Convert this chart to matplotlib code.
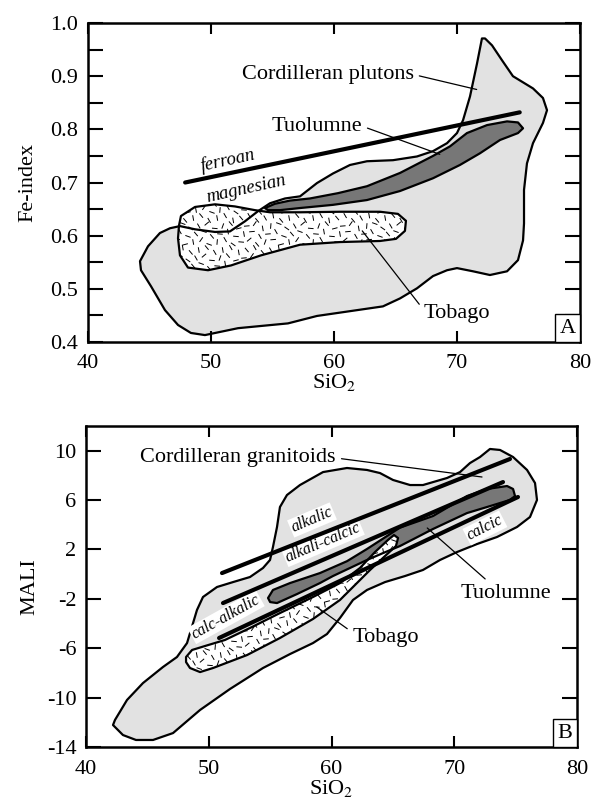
import numpy as np
import matplotlib.pyplot as plt
from matplotlib.patches import Polygon
from matplotlib.collections import LineCollection
from matplotlib.offsetbox import AnchoredText

# --- panel A: Fe-index vs SiO2 ---
plutons_si = [44.23, 44.88, 45.85, 46.67, 47.48, 48.70, 50.33, 51.54, 52.76, 53.82,
              54.80, 56.02, 57.24, 58.62, 59.92, 61.30, 62.68, 64.80, 66.75, 68.05,
              69.19, 70.00, 70.49, 71.06, 71.63, 72.03, 72.28, 72.85, 73.66, 74.55,
              76.18, 76.99, 77.32, 76.99, 76.18, 75.69, 75.45, 75.45, 75.37, 74.96,
              74.07, 72.68, 71.30, 70.00, 69.19, 68.05, 66.75, 65.37, 63.98, 61.30,
              58.62, 56.26, 52.20, 49.51, 48.37, 47.32, 46.26, 45.12, 44.31]
plutons_fe = [0.552, 0.580, 0.605, 0.614, 0.618, 0.612, 0.607, 0.608, 0.627, 0.646,
              0.661, 0.670, 0.674, 0.699, 0.717, 0.733, 0.740, 0.742, 0.749, 0.759,
              0.774, 0.793, 0.817, 0.862, 0.924, 0.971, 0.971, 0.958, 0.930, 0.900,
              0.877, 0.859, 0.836, 0.812, 0.774, 0.736, 0.686, 0.623, 0.591, 0.554,
              0.533, 0.526, 0.533, 0.539, 0.535, 0.524, 0.501, 0.482, 0.467, 0.458,
              0.449, 0.435, 0.426, 0.413, 0.417, 0.432, 0.460, 0.505, 0.535]

tuolumne_a_si = [54.39, 55.20, 56.42, 58.05, 60.33, 62.68, 65.37, 68.05, 69.43, 70.81,
                 72.44, 74.07, 74.96, 75.37, 74.96, 73.50, 71.87, 70.24, 68.05, 65.37,
                 62.68, 59.92, 57.24, 55.61, 54.63]
tuolumne_a_fe = [0.652, 0.660, 0.666, 0.670, 0.680, 0.693, 0.718, 0.750, 0.768, 0.793,
                 0.808, 0.815, 0.813, 0.802, 0.793, 0.780, 0.755, 0.733, 0.708, 0.684,
                 0.667, 0.658, 0.652, 0.648, 0.648]

tobago_a_si = [47.56, 48.70, 50.33, 51.95, 53.58, 54.80, 57.24, 60.49, 63.74, 65.20,
               65.85, 65.77, 65.04, 63.74, 60.49, 57.24, 54.07, 51.63, 49.76, 48.13,
               47.48, 47.32, 47.40]
tobago_a_fe = [0.637, 0.654, 0.659, 0.655, 0.648, 0.644, 0.644, 0.645, 0.645, 0.641,
               0.628, 0.609, 0.594, 0.590, 0.588, 0.583, 0.563, 0.544, 0.535, 0.540,
               0.563, 0.595, 0.619]

ferroan_si = [47.9, 75.1]
ferroan_fe = [0.700, 0.832]

# --- panel B: MALI vs SiO2 ---
granitoids_si = [42.20, 42.36, 43.34, 44.64, 46.27, 47.41, 48.23, 48.72, 49.04, 49.53,
                 50.67, 51.98, 53.36, 54.42, 54.99, 55.23, 55.56, 55.80, 56.37, 57.43,
                 59.31, 61.26, 62.89, 63.95, 65.01, 66.40, 67.45, 69.41, 70.47, 71.28,
                 72.10, 72.91, 73.73, 74.79, 75.93, 76.58, 76.74, 76.17, 75.11, 73.48,
                 71.85, 70.22, 68.84, 67.45, 65.99, 64.36, 62.89, 61.75, 60.69, 59.63,
                 58.49, 56.62, 54.42, 51.73, 49.29, 47.09, 45.46, 44.07, 43.01]
granitoids_mali = [-12.22, -11.81, -10.19, -8.82, -7.52, -6.71, -5.58, -3.96, -2.90, -1.85,
                   -1.04, -0.64, -0.23, 0.50, 1.15, 2.20, 3.82, 5.44, 6.41, 7.22,
                   8.27, 8.60, 8.44, 8.19, 7.63, 7.22, 7.22, 7.79, 8.27, 9.00,
                   9.49, 10.14, 10.06, 9.49, 8.44, 7.38, 6.01, 4.63, 3.82, 3.01,
                   2.44, 1.79, 1.15, 0.34, -0.15, -0.64, -1.28, -2.09, -3.55, -4.85,
                   -5.58, -6.47, -7.60, -9.30, -11.00, -12.87, -13.43, -13.43, -13.03]

tuolumne_b_si = [54.83, 55.23, 56.62, 59.06, 61.26, 62.89, 65.58, 68.27, 69.65, 71.04,
                 72.67, 74.30, 74.79, 74.95, 74.54, 72.67, 71.04, 68.27, 65.58, 64.20,
                 62.89, 60.12, 59.06, 57.19, 55.56, 55.00]
tuolumne_b_mali = [-1.93, -1.28, -0.72, 0.09, 1.05, 2.04, 3.77, 4.71, 5.52, 6.33,
                   6.90, 7.14, 6.90, 6.33, 6.01, 5.44, 4.95, 3.66, 2.28, 1.71,
                   1.15, -0.15, -0.72, -1.61, -2.34, -2.26]

tobago_b_si = [48.15, 48.64, 49.69, 51.32, 53.36, 55.80, 58.49, 60.69, 62.32, 63.54,
               64.60, 65.09, 65.42, 65.25, 64.36, 63.14, 61.91, 60.69, 58.49, 55.80,
               53.12, 50.35, 49.29, 48.47, 48.15]
tobago_b_mali = [-6.71, -6.14, -5.82, -5.33, -4.36, -3.15, -1.85, -0.72, 0.50, 1.79,
                 2.77, 3.17, 2.93, 2.28, 1.47, 0.34, -0.88, -2.09, -3.63, -5.17,
                 -6.55, -7.60, -7.93, -7.60, -7.12]

alkalic_si = [51.08, 74.54]
alkalic_mali = [0.09, 9.33]
alkcalcic_si = [51.16, 73.97]
alkcalcic_mali = [-2.34, 7.46]
calcalk_si = [50.84, 75.19]
calcalk_mali = [-5.17, 6.25]

LIGHT = '#e2e2e2'
DARK = '#777777'

plt.rcParams['font.family'] = ['Liberation Serif', 'DejaVu Serif']
plt.rcParams['mathtext.fontset'] = 'stix'
plt.rcParams['axes.unicode_minus'] = False


def dash_texture(ax, patch):
    # short dashes pointing every which way, clipped to the region
    angles = np.radians([15, 120, 70, 160, 40, 100, 145, 5, 85, 130, 55, 175])
    fig = ax.figure
    pos = ax.get_position()
    w_px = pos.width * fig.get_figwidth() * fig.dpi
    h_px = pos.height * fig.get_figheight() * fig.dpi
    step, half = 8.0, 2.8
    segs = []
    for i in range(int(w_px / step)):
        for j in range(int(h_px / step)):
            a = angles[(i * 5 + j * 3 + (i * j) % 4) % len(angles)]
            cx = (i + 0.5 + 0.35 * ((j % 3) - 1)) * step / w_px
            cy = (j + 0.5 + 0.3 * ((i % 3) - 1)) * step / h_px
            dx = half * np.cos(a) / w_px
            dy = half * np.sin(a) / h_px
            segs.append([(cx - dx, cy - dy), (cx + dx, cy + dy)])
    lc = LineCollection(segs, colors='black', linewidths=0.7,
                        transform=ax.transAxes, zorder=patch.get_zorder() + 0.1)
    ax.add_collection(lc, autolim=False)
    lc.set_clip_path(patch)


def region(ax, xs, ys, color, z):
    pts = np.column_stack([xs, ys])
    fill = Polygon(pts, closed=True, facecolor=color, edgecolor='none', zorder=z)
    ax.add_patch(fill)
    ax.add_patch(Polygon(pts, closed=True, fill=False, edgecolor='black',
                         lw=1.6, joinstyle='round', zorder=4))
    return fill


def style_axes(ax, letter):
    for s in ax.spines.values():
        s.set_linewidth(1.8)
    ax.tick_params(axis='both', which='both', direction='in', top=True, right=True,
                   width=1.5, labelsize=16)
    ax.tick_params(axis='y', which='both', length=10.5, pad=7)
    ax.tick_params(axis='x', which='both', length=8, pad=9)
    ax.set_xlim(40, 80)
    ax.set_xticks([40, 50, 60, 70, 80])
    at = AnchoredText(letter, loc='lower right', pad=0.2, borderpad=0,
                      prop=dict(size=16))
    at.patch.set_linewidth(1.0)
    ax.add_artist(at)


fig = plt.figure(figsize=(5.94, 8.11), dpi=100)
lead = dict(arrowstyle='-', lw=0.9, color='black', shrinkA=2, shrinkB=0)

# ---------------- panel A ----------------
axa = fig.add_axes([0.1481, 0.5783, 0.8283, 0.3933])
region(axa, plutons_si, plutons_fe, LIGHT, 1)
tob = region(axa, tobago_a_si, tobago_a_fe, 'white', 2)
dash_texture(axa, tob)
region(axa, tuolumne_a_si, tuolumne_a_fe, DARK, 3)
axa.plot(ferroan_si, ferroan_fe, color='black', lw=3, solid_capstyle='round', zorder=5)

axa.text(51.4, 0.742, 'ferroan', style='italic', fontsize=13.5, rotation=12.5,
         ha='center', va='center')
axa.text(52.9, 0.688, 'magnesian', style='italic', fontsize=13.5, rotation=12.5,
         ha='center', va='center')
axa.annotate('Cordilleran plutons', xy=(71.6, 0.875), xytext=(59.5, 0.903),
             ha='center', va='center', fontsize=16,
             arrowprops=dict(lead, relpos=(1, 0.5)))
axa.annotate('Tuolumne', xy=(68.6, 0.753), xytext=(58.6, 0.806),
             ha='center', va='center', fontsize=16,
             arrowprops=dict(lead, relpos=(1, 0.5)))
axa.annotate('Tobago', xy=(62.3, 0.609), xytext=(70.0, 0.453),
             ha='center', va='center', fontsize=16,
             arrowprops=dict(lead, relpos=(0, 0.7)))

style_axes(axa, 'A')
axa.set_ylim(0.4, 1.0)
axa.set_yticks(np.arange(0.4, 1.01, 0.1))
axa.set_yticks(np.arange(0.45, 1.0, 0.1), minor=True)
axa.yaxis.set_major_formatter(plt.FormatStrFormatter('%.1f'))
axa.set_ylabel('Fe-index', fontsize=16)
axa.set_xlabel(r'SiO$_2$', fontsize=16)
axa.yaxis.set_label_coords(-0.102, 0.5)
axa.xaxis.set_label_coords(0.5, -0.095)

# ---------------- panel B ----------------
axb = fig.add_axes([0.1448, 0.0789, 0.8266, 0.3958])
region(axb, granitoids_si, granitoids_mali, LIGHT, 1)
region(axb, tuolumne_b_si, tuolumne_b_mali, DARK, 2)
tob = region(axb, tobago_b_si, tobago_b_mali, 'white', 3)
dash_texture(axb, tob)
for xs, ys in [(alkalic_si, alkalic_mali), (alkcalcic_si, alkcalcic_mali),
               (calcalk_si, calcalk_mali)]:
    axb.plot(xs, ys, color='black', lw=3, solid_capstyle='round', zorder=5)

box = dict(boxstyle='square,pad=0.08', fc='white', ec='none')
for txt, x, y, rot in [('alkalic', 58.41, 4.39, 23), ('alkali-calcic', 59.31, 2.58, 23),
                       ('calc-alkalic', 51.4, -3.47, 29), ('calcic', 72.5, 3.74, 27)]:
    axb.text(x, y, txt, style='italic', fontsize=11.5, rotation=rot,
             ha='center', va='center', bbox=box, zorder=4.5)

axb.annotate('Cordilleran granitoids', xy=(72.26, 7.87), xytext=(52.4, 9.41),
             ha='center', va='center', fontsize=16,
             arrowprops=dict(lead, relpos=(1, 0.5)))
axb.annotate('Tuolumne', xy=(67.8, 3.74), xytext=(74.2, -1.53),
             ha='center', va='center', fontsize=16,
             arrowprops=dict(lead, relpos=(0.33, 1)))
axb.annotate('Tobago', xy=(58.8, -2.66), xytext=(64.4, -5.17),
             ha='center', va='center', fontsize=16,
             arrowprops=dict(lead, relpos=(0, 0.8)))

style_axes(axb, 'B')
axb.set_ylim(-14, 12)
axb.set_yticks(np.arange(-14, 11, 4))
axb.set_ylabel('MALI', fontsize=16)
axb.set_xlabel(r'SiO$_2$', fontsize=16)
axb.yaxis.set_label_coords(-0.095, 0.5)
axb.xaxis.set_label_coords(0.5, -0.098)

fig.savefig('out.png', dpi=100)
